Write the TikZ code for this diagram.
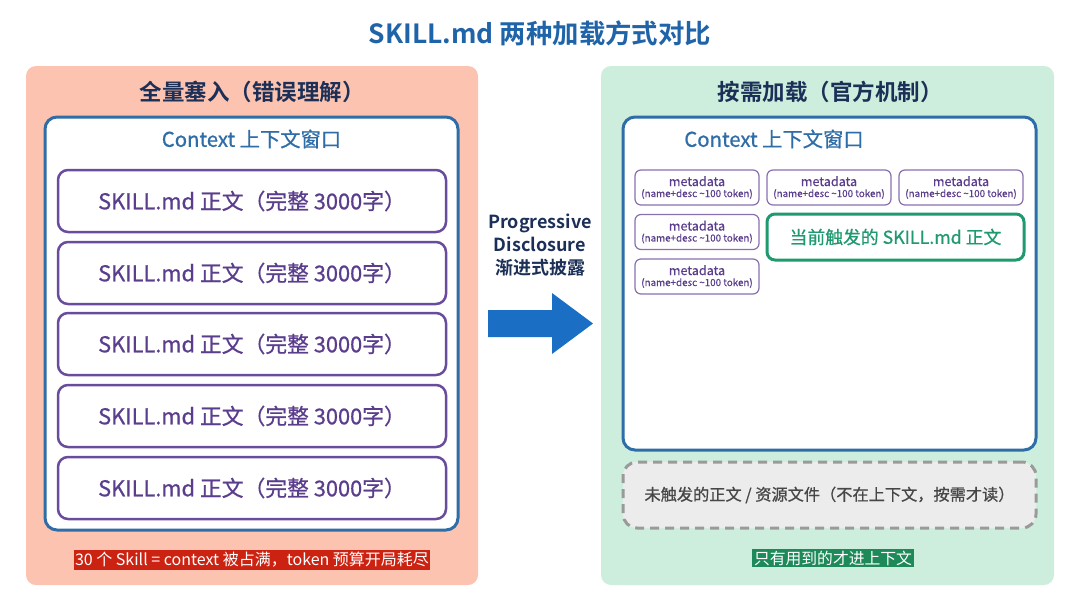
\documentclass[tikz,border=0pt]{standalone}
\usepackage{fontspec}
\setmainfont{Noto Sans CJK SC}
\newfontfamily\cjkb{Noto Sans CJK SC Bold}
\newfontfamily\cjkm[FakeBold=0.7]{Noto Sans CJK SC}
\newfontfamily\cjks[FakeBold=0.3]{Noto Sans CJK SC}
\definecolor{titleblue}{HTML}{1F63A8}
\definecolor{navy}{HTML}{1C2F57}
\definecolor{salmon}{HTML}{FCC4B0}
\definecolor{mint}{HTML}{CDEEDC}
\definecolor{ctxblue}{HTML}{2E6DA8}
\definecolor{skpurple}{HTML}{6A4C9C}
\definecolor{sktext}{HTML}{5A3D8C}
\definecolor{alertred}{HTML}{CC2211}
\definecolor{arrowblue}{HTML}{1A6FC4}
\definecolor{trig}{HTML}{1E9A6E}
\definecolor{dashgray}{HTML}{9A9A9A}
\definecolor{dashfill}{HTML}{ECECEC}
\definecolor{labgreen}{HTML}{1E8A5A}
\tikzset{
  panel/.style={rounded corners=10pt, inner sep=0pt},
  ctxbox/.style={draw=ctxblue, line width=3pt, fill=white, rounded corners=12pt, inner sep=0pt, minimum width=413pt},
  skillbox/.style={draw=skpurple, line width=2.5pt, fill=white, rounded corners=10pt, minimum width=388pt, minimum height=62pt, inner sep=0pt, text=sktext, font=\cjkm\fontsize{21.8}{24}\selectfont},
  metabox/.style={draw=skpurple!80, line width=1.2pt, fill=white, rounded corners=6pt, minimum width=124pt, minimum height=35pt, inner sep=0pt, align=center, text=sktext},
  ptitle/.style={font=\cjkb\fontsize{22.5}{26}\selectfont, text=navy},
  ctxtitle/.style={font=\cjkm\fontsize{20.3}{24}\selectfont, text=ctxblue},
}
\newcommand{\metalines}{{\cjks\fontsize{12.6}{14}\selectfont metadata}\\[-1pt]{\cjks\fontsize{9.8}{11}\selectfont (name+desc \textasciitilde100 token)}}
\begin{document}
\begin{tikzpicture}[x=1pt,y=-1pt]
\useasboundingbox (0,0) rectangle (1080,603);
\fill[white] (0,0) rectangle (1080,603);

% title
\node[font=\cjkb\fontsize{26.4}{30}\selectfont, text=titleblue] (title) at (540,33) {SKILL.md 两种加载方式对比};

% left panel
\node[panel, fill=salmon, minimum width=452pt, minimum height=519pt] (lpanel) at (252,325.5) {};
\node[ptitle] (ltitle) at (252,92) {全量塞入（错误理解）};
\node[ctxbox, minimum height=413pt] (lctx) at (251.5,323.5) {};
\node[ctxtitle] (lctxt) at (251.5,139) {Context 上下文窗口};
\node[skillbox] (s1) at (252,201) {SKILL.md 正文（完整 3000字）};
\node[skillbox] (s2) at (252,273) {SKILL.md 正文（完整 3000字）};
\node[skillbox] (s3) at (252,344) {SKILL.md 正文（完整 3000字）};
\node[skillbox] (s4) at (252,416) {SKILL.md 正文（完整 3000字）};
\node[skillbox] (s5) at (252,488) {SKILL.md 正文（完整 3000字）};
\node[fill=alertred, text=white, inner xsep=1pt, inner ysep=2pt, font=\fontsize{16}{18}\selectfont] (lnote) at (252,560) {30 个 Skill = context 被占满，token 预算开局耗尽};

% middle arrow
\node[font=\cjkb\fontsize{18}{23}\selectfont, text=navy, align=center] (ptext) at (540,245) {Progressive\\Disclosure\\渐进式披露};
\fill[arrowblue] (488,310) -- (552,310) -- (552,293) -- (593,323.5) -- (552,354) -- (552,337) -- (488,337) -- cycle;

% right panel
\node[panel, fill=mint, minimum width=453pt, minimum height=519pt] (rpanel) at (827.5,325.5) {};
\node[ptitle] (rtitle) at (830,92) {按需加载（官方机制）};
\node[ctxbox, minimum height=333pt] (rctx) at (829.5,283.5) {};
\node[ctxtitle] (rctxt) at (774,139) {Context 上下文窗口};
\node[metabox] (m1) at (697,187.5) {\metalines};
\node[metabox] (m2) at (829,187.5) {\metalines};
\node[metabox] (m3) at (961,187.5) {\metalines};
\node[metabox] (m4) at (697,232) {\metalines};
\node[metabox] (m5) at (697,276.5) {\metalines};
\node[draw=trig, line width=3pt, fill=white, rounded corners=8pt, minimum width=257pt, minimum height=46pt, inner sep=0pt, text=trig, font=\cjkm\fontsize{17.8}{22}\selectfont] (trigbox) at (895.5,237) {当前触发的 SKILL.md 正文};
\node[draw=dashgray, line width=3pt, dash pattern=on 9pt off 6pt, fill=dashfill, rounded corners=14pt, minimum width=413pt, minimum height=66pt, inner sep=0pt, text=black!72, font=\cjkm\fontsize{16.2}{19}\selectfont] (untrig) at (829.5,495) {未触发的正文 / 资源文件（不在上下文，按需才读）};
\node[fill=labgreen, text=white, inner xsep=2pt, inner ysep=2pt, font=\fontsize{15.8}{18}\selectfont] (rnote) at (833,558) {只有用到的才进上下文};
\end{tikzpicture}
\end{document}
